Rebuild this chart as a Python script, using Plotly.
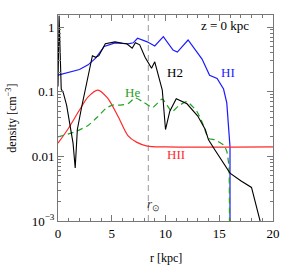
import math
import plotly.graph_objects as go

# ---- data ----
hi_r = [0, 1.0, 2.0, 2.8, 3.5, 4.3, 5.3, 6.0, 6.5, 7.0, 7.4, 8.3, 9.0, 9.8, 10.7, 11.1, 12.1, 13.4, 14.1, 14.8, 15.4, 15.7, 15.9, 16.0, 16.0]
hi_n = [0.18, 0.2, 0.22, 0.26, 0.33, 0.5, 0.57, 0.56, 0.55, 0.57, 0.67, 0.59, 0.51, 0.71, 0.44, 0.41, 0.63, 0.32, 0.18, 0.16, 0.11, 0.067, 0.026, 0.014, 0.001]

h2_r = [0, 0.1, 0.3, 0.5, 0.8, 1.1, 1.4, 1.6, 1.8, 2.2, 2.7, 3.2, 3.5, 3.8, 4.4, 5.3, 6.0, 6.4, 6.9, 7.2, 7.6, 8.1, 8.7, 9.0, 9.7, 10.0, 10.4, 11.0, 12.0, 13.0, 13.7, 14.0, 14.6, 15.2, 16.0, 17.0, 18.0, 18.8]
h2_n = [0.12, 1.5, 0.11, 0.095, 0.062, 0.033, 0.016, 0.0066, 0.026, 0.058, 0.15, 0.36, 0.34, 0.36, 0.55, 0.59, 0.56, 0.55, 0.47, 0.57, 0.53, 0.34, 0.23, 0.29, 0.106, 0.026, 0.05, 0.078, 0.065, 0.042, 0.026, 0.018, 0.0125, 0.0088, 0.0055, 0.0042, 0.0033, 0.001]

hii_r = [0, 0.9, 2.0, 2.8, 3.7, 4.6, 5.6, 6.5, 7.3, 8.3, 10, 20]
hii_n = [0.016, 0.026, 0.052, 0.083, 0.106, 0.08, 0.041, 0.021, 0.0166, 0.0144, 0.014, 0.014]

he_r = [0, 1.6, 2.8, 3.7, 4.5, 5.1, 5.8, 6.5, 7.2, 8.0, 8.8, 9.7, 10.6, 11.2, 12.0, 12.9, 13.4, 14.0, 14.6, 15.4, 15.7, 15.9, 15.95]
he_n = [0.02, 0.024, 0.030, 0.041, 0.056, 0.062, 0.062, 0.065, 0.08, 0.068, 0.057, 0.077, 0.049, 0.06, 0.07, 0.05, 0.034, 0.019, 0.018, 0.015, 0.012, 0.007, 0.001]

r_sun = 8.4

x_ticks = [0, 5, 10, 15, 20]
y_tickvals = [1e-3, 1e-2, 1e-1, 1]
y_ticktext = ["10<sup>−3</sup>", "0.01", "0.1", "1"]

FONT = "Liberation Serif, Times New Roman, serif"
AX = "#777777"

fig = go.Figure()
fig.add_trace(go.Scatter(x=hi_r, y=hi_n, mode="lines", line=dict(color="#1a1aff", width=1.2), name="HI"))
fig.add_trace(go.Scatter(x=hii_r, y=hii_n, mode="lines", line=dict(color="#ff2a2a", width=1.2, shape="spline", smoothing=0.8), name="HII"))
fig.add_trace(go.Scatter(x=he_r, y=he_n, mode="lines", line=dict(color="#22a022", width=1.2, dash="6px,4px", shape="spline", smoothing=0.5), name="He"))
fig.add_trace(go.Scatter(x=h2_r, y=h2_n, mode="lines", line=dict(color="black", width=1.1), name="H2"))

fig.add_shape(type="line", x0=r_sun, x1=r_sun, y0=0, y1=1, xref="x", yref="paper",
              line=dict(color="#999999", width=1, dash="6px,4px"), layer="below")

ann = [
    dict(x=15.5, y=1.07, text="z = 0 kpc", color="black"),
    dict(x=10.9, y=0.2, text="H2", color="black"),
    dict(x=15.8, y=0.2, text="HI", color="#1a1aff"),
    dict(x=6.9, y=0.098, text="He", color="#22a022"),
    dict(x=11.0, y=0.0105, text="HII", color="#ff2a2a"),
    dict(x=8.9, y=0.0018, text="<i>r</i><sub>⊙</sub>", color="#333333"),
]
for a in ann:
    fig.add_annotation(x=a["x"], y=math.log10(a["y"]), text=a["text"], showarrow=False,
                       xanchor="center", yanchor="middle",
                       font=dict(family=FONT, size=13, color=a["color"]), xref="x", yref="y")

fig.add_annotation(x=0.5, y=-0.18, xref="paper", yref="paper", text="r [kpc]", showarrow=False,
                   xanchor="center", yanchor="middle",
                   font=dict(family=FONT, size=12, color="black"))
fig.add_annotation(x=-0.22, y=0.5, xref="paper", yref="paper", text="density [cm<sup>−3</sup>]",
                   showarrow=False, textangle=-90, xanchor="center", yanchor="middle",
                   font=dict(family=FONT, size=12, color="black"))

fig.update_layout(
    width=281, height=266,
    margin=dict(l=58, r=8, t=15, b=45, autoexpand=False),
    paper_bgcolor="white", plot_bgcolor="white",
    showlegend=False,
    font=dict(family=FONT, size=12, color="black"),
)
fig.update_xaxes(range=[0, 20], tickvals=x_ticks, ticks="inside", ticklen=6, tickcolor=AX,
                 showline=True, linecolor=AX, linewidth=1, mirror="ticks", showgrid=False, zeroline=False,
                 minor=dict(dtick=1, ticks="inside", ticklen=3, tickcolor=AX, showgrid=False),
                 tickfont=dict(family=FONT, size=13), automargin=False)
fig.update_yaxes(type="log", range=[-3, 0.186], tickvals=y_tickvals, ticktext=y_ticktext,
                 ticks="inside", ticklen=6, tickcolor=AX,
                 showline=True, linecolor=AX, linewidth=1, mirror="ticks", showgrid=False, zeroline=False,
                 minor=dict(ticks="inside", ticklen=3, tickcolor=AX, showgrid=False, dtick="D1"),
                 tickfont=dict(family=FONT, size=13), automargin=False)

fig.write_html("out.html", config={"displayModeBar": False},
               post_script="document.body.style.margin='0';document.body.style.overflow='hidden';")
